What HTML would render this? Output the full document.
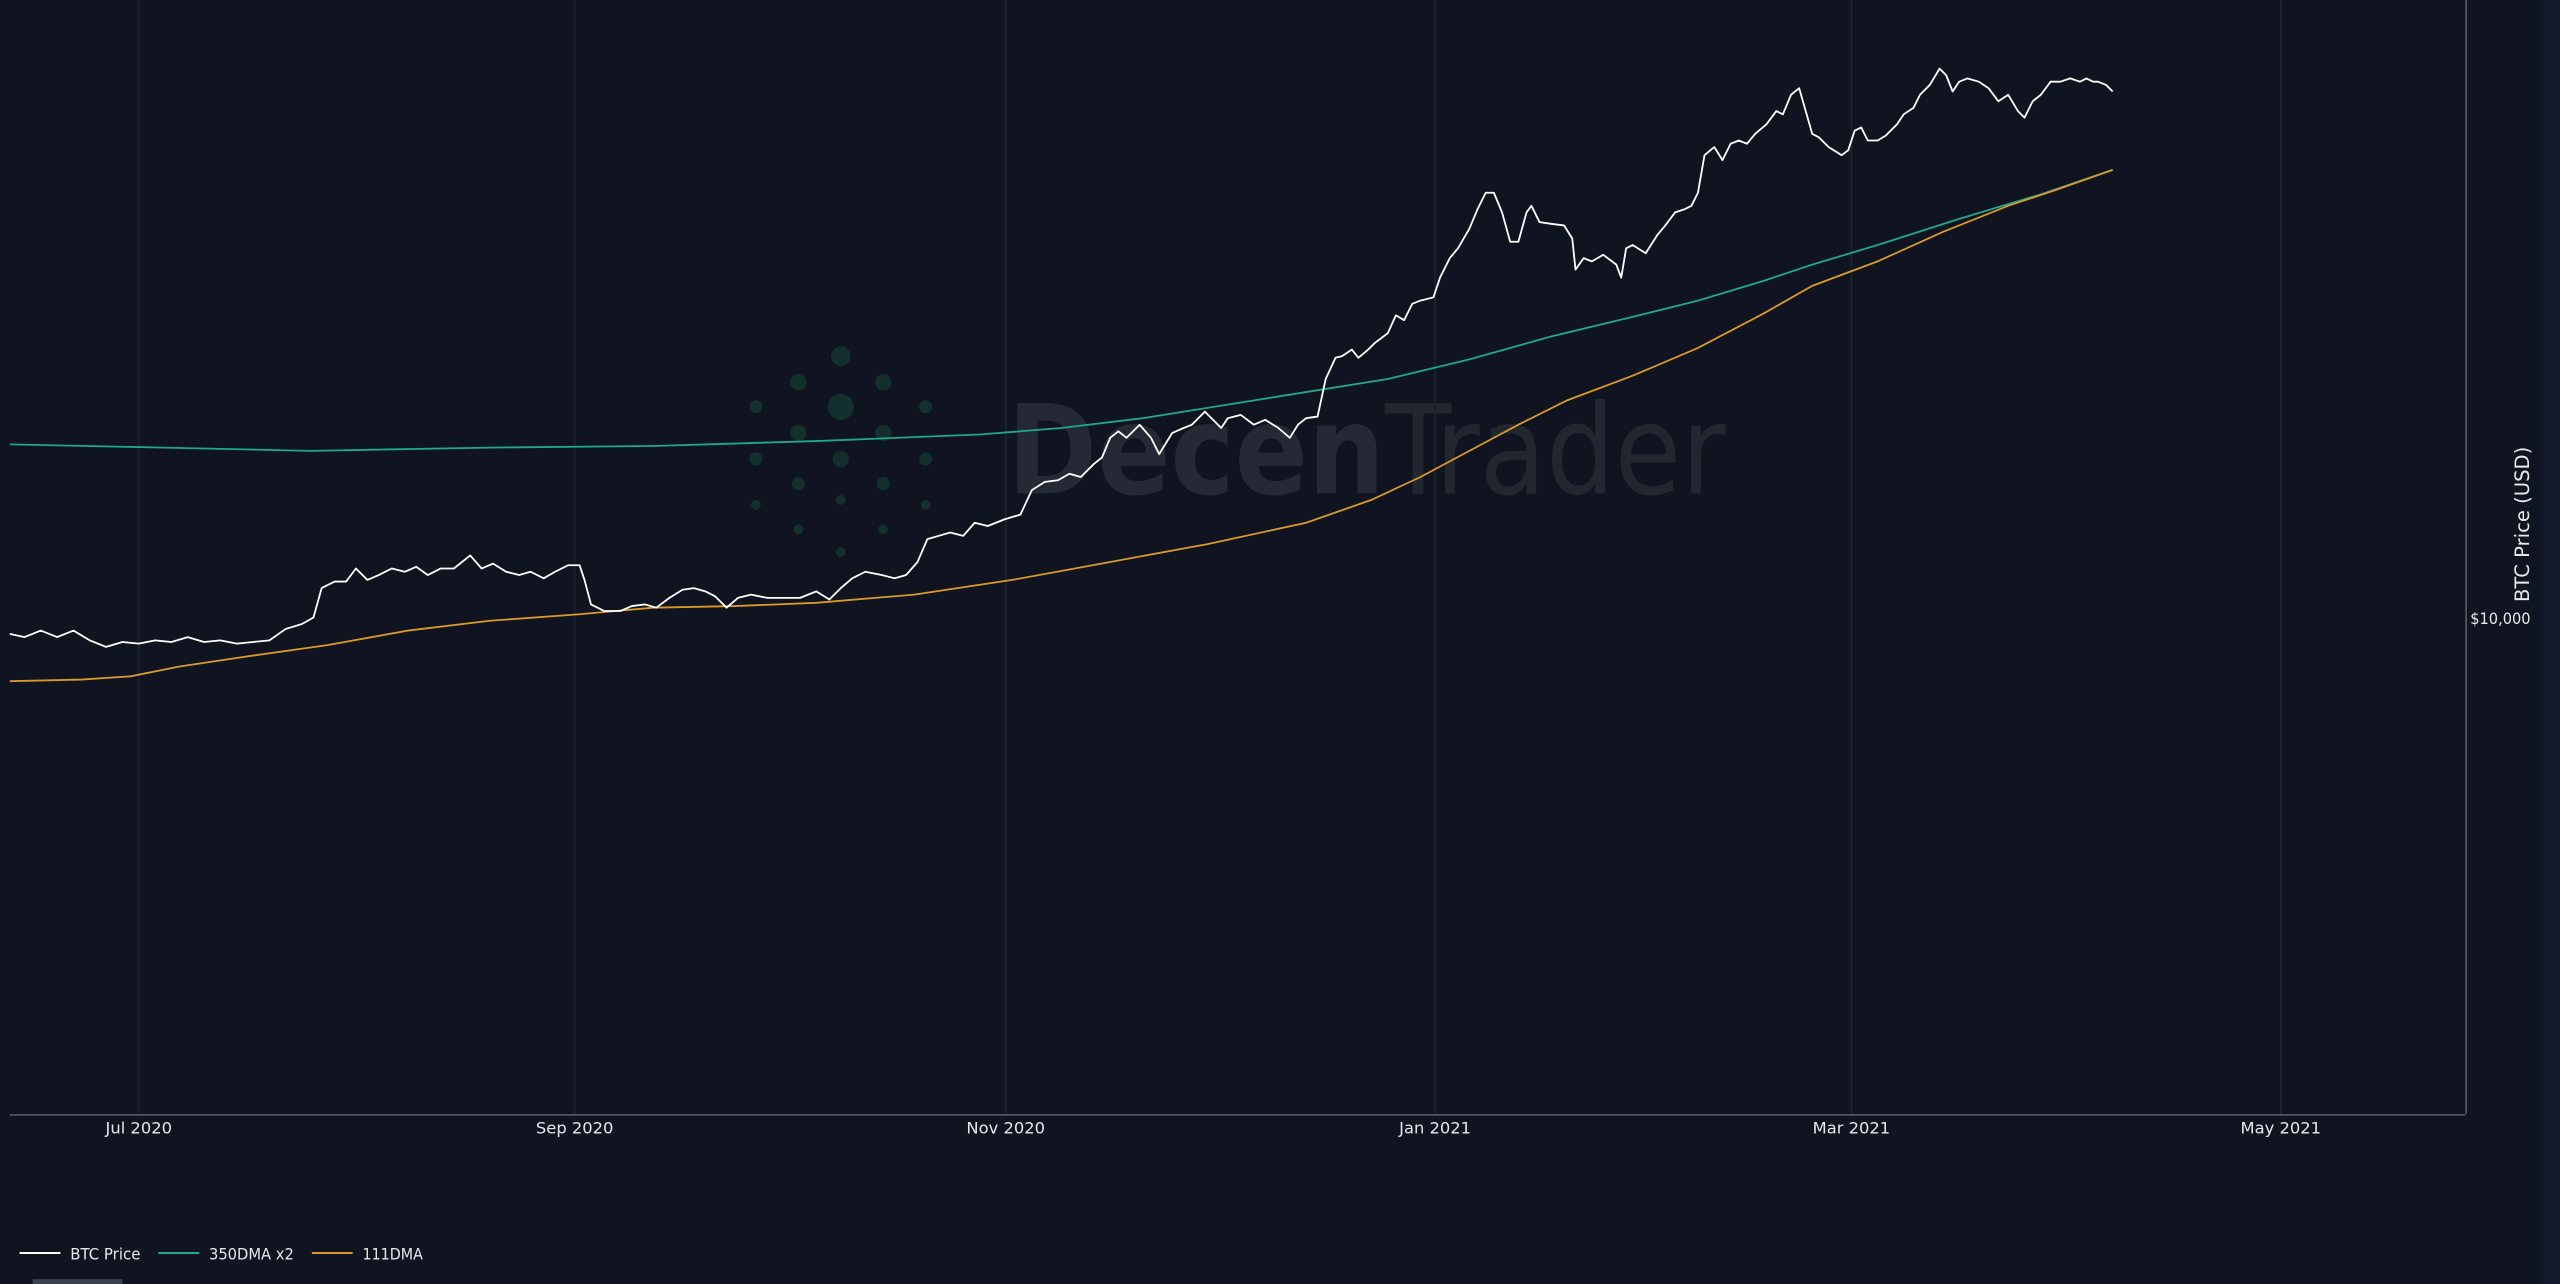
<!DOCTYPE html>
<html><head><meta charset="utf-8"><style>
html,body{margin:0;padding:0;background:#0f1420;}
svg{display:block}
text{font-family:"DejaVu Sans","Liberation Sans",sans-serif;}
</style></head><body>
<svg width="2560" height="1284" viewBox="0 0 1568 786" preserveAspectRatio="none" xmlns="http://www.w3.org/2000/svg">
<rect width="1568" height="786" fill="#0f1420"/>
<rect x="1556" y="0" width="12" height="786" fill="#111a2b"/>
<g fill="#13302f">
<circle cx="515" cy="218" r="6"/><circle cx="489" cy="234" r="5"/><circle cx="541" cy="234" r="5"/>
<circle cx="463" cy="249" r="4"/><circle cx="515" cy="249" r="8"/><circle cx="567" cy="249" r="4"/>
<circle cx="489" cy="265" r="5"/><circle cx="541" cy="265" r="5"/>
<circle cx="463" cy="281" r="4"/><circle cx="515" cy="281" r="5"/><circle cx="567" cy="281" r="4"/>
<circle cx="489" cy="296" r="4"/><circle cx="541" cy="296" r="4"/>
<circle cx="463" cy="309" r="3"/><circle cx="515" cy="306" r="3"/><circle cx="567" cy="309" r="3"/>
<circle cx="489" cy="324" r="3"/><circle cx="541" cy="324" r="3"/><circle cx="515" cy="338" r="3"/>
</g>
<text x="617" y="302" font-size="76" fill="#242935" font-weight="bold" textLength="440" lengthAdjust="spacingAndGlyphs">Decen<tspan font-weight="normal" fill="#22272f">Trader</tspan></text>
<g stroke="#1d2330" stroke-width="1">
<line x1="85" y1="0" x2="85" y2="682"/><line x1="352" y1="0" x2="352" y2="682"/>
<line x1="616" y1="0" x2="616" y2="682"/><line x1="879" y1="0" x2="879" y2="682"/>
<line x1="1134" y1="0" x2="1134" y2="682"/><line x1="1397" y1="0" x2="1397" y2="682"/>
</g>
<line x1="6" y1="682.5" x2="1510" y2="682.5" stroke="#555b66" stroke-width="1"/>
<line x1="1510.5" y1="0" x2="1510.5" y2="682" stroke="#555b66" stroke-width="1"/>
<g font-size="10" fill="#e6e8ec" text-anchor="middle">
<text x="85" y="694">Jul 2020</text><text x="352" y="694">Sep 2020</text><text x="616" y="694">Nov 2020</text>
<text x="879" y="694">Jan 2021</text><text x="1134" y="694">Mar 2021</text><text x="1397" y="694">May 2021</text>
</g>
<text x="1550" y="382" font-size="10" fill="#e6e8ec" text-anchor="end" textLength="37" lengthAdjust="spacingAndGlyphs">$10,000</text>
<text transform="translate(1549,321) rotate(-90)" font-size="12" fill="#e6e8ec" text-anchor="middle">BTC Price (USD)</text>
<polyline fill="none" stroke="#20a88a" stroke-width="1.1" points="6,272 100,274 190,276 300,274 400,273 500,270 600,266 650,262 700,256 750,248 800,240 850,232 900,220 950,206 1000,194 1040,184 1080,172 1110,162 1150,150 1200,134 1250,119 1294,104"/>
<polyline fill="none" stroke="#d99a2a" stroke-width="1.1" points="6,417 50,416 80,414 110,408 150,402 200,395 250,386 300,380 355,376 400,372 450,371 500,369 560,364 620,355 680,344 740,333 800,320 840,306 870,292 900,276 930,260 960,245 1000,230 1040,213 1080,192 1110,175 1150,160 1190,142 1230,126 1260,116 1294,104"/>
<polyline fill="none" stroke="#ffffff" stroke-width="1.1" stroke-linejoin="round" points="6,388 15,390 25,386 35,390 45,386 55,392 65,396 75,393 85,394 95,392 105,393 115,390 125,393 135,392 145,394 155,393 165,392 175,385 185,382 192,378 197,360 205,356 212,356 218,348 225,355 232,352 240,348 248,350 255,347 262,352 270,348 278,348 288,340 295,348 302,345 310,350 318,352 325,350 333,354 340,350 348,346 355,346 358,355 362,370 370,374 380,374 387,371 395,370 402,372 410,366 418,361 425,360 432,362 438,365 445,372 452,366 460,364 470,366 480,366 490,366 500,362 508,367 515,360 522,354 530,350 540,352 548,354 555,352 562,344 568,330 575,328 582,326 590,328 597,320 605,322 615,318 625,315 632,300 640,295 648,294 655,290 662,292 670,284 675,280 680,268 685,264 690,268 698,260 705,268 710,278 718,265 725,262 730,260 738,252 742,256 748,262 752,256 760,254 768,260 775,257 783,262 790,268 795,260 800,256 807,255 812,232 818,219 822,218 828,214 832,219 838,214 842,210 850,204 855,193 860,196 865,186 870,184 878,182 882,170 888,158 893,152 900,140 905,128 910,118 915,118 920,130 925,148 930,148 935,130 938,126 943,136 950,137 958,138 963,146 965,165 970,158 975,160 982,156 990,162 993,170 996,152 1000,150 1008,155 1015,144 1020,138 1026,130 1032,128 1036,126 1040,118 1044,95 1050,90 1055,98 1060,88 1065,86 1070,88 1075,82 1082,76 1088,68 1092,70 1097,58 1102,54 1106,68 1110,82 1114,84 1120,90 1128,95 1132,92 1136,80 1140,78 1144,86 1150,86 1155,83 1162,76 1166,70 1172,66 1176,58 1182,52 1188,42 1192,46 1196,56 1200,50 1205,48 1212,50 1218,54 1224,62 1230,58 1236,68 1240,72 1245,62 1250,58 1256,50 1262,50 1268,48 1274,50 1278,48 1282,50 1285,50 1290,52 1294,56"/>
<line x1="12" y1="767" x2="37" y2="767" stroke="#ffffff" stroke-width="1.2"/>
<line x1="97" y1="767" x2="122" y2="767" stroke="#20a88a" stroke-width="1.2"/>
<line x1="191" y1="767" x2="216" y2="767" stroke="#d99a2a" stroke-width="1.2"/>
<g font-size="9.5" fill="#e6e8ec">
<text x="43" y="771" textLength="43" lengthAdjust="spacingAndGlyphs">BTC Price</text><text x="128" y="771" textLength="52" lengthAdjust="spacingAndGlyphs">350DMA x2</text><text x="222" y="771" textLength="37" lengthAdjust="spacingAndGlyphs">111DMA</text>
</g>
<rect x="20" y="783" width="55" height="3" fill="#3a404c"/>
</svg>
</body></html>
